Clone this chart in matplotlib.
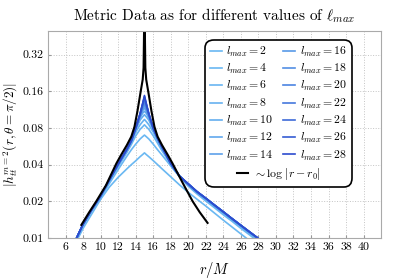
import matplotlib
matplotlib.use('Agg')
import matplotlib.pyplot as plt
from matplotlib.legend import Legend
import numpy as np

plt.rcParams['font.family'] = 'serif'
plt.rcParams['font.serif'] = ['cmr10', 'DejaVu Serif']
plt.rcParams['mathtext.fontset'] = 'cm'
plt.rcParams['axes.unicode_minus'] = False
plt.rcParams['axes.formatter.use_mathtext'] = True

# radial grid shared by all l_max curves
r = [7, 7.5, 8, 9, 10, 11, 12, 13, 13.5, 14, 14.5, 14.8, 15, 15.2, 15.5, 16, 16.5,
     17, 18, 19, 20, 21, 22, 23, 24, 25, 26, 27, 28, 29]

lmax = [2, 4, 6, 8, 10, 12, 14, 16, 18, 20, 22, 24, 26, 28]

h2 = [0.0088, 0.0102, 0.0120, 0.0158, 0.0208, 0.0262, 0.0315, 0.0370, 0.0400, 0.0430, 0.0465, 0.0485, 0.0500,
      0.0485, 0.0465, 0.0432, 0.0400, 0.0370, 0.0318, 0.0273, 0.0237, 0.0208, 0.0183, 0.0160, 0.0140, 0.0123,
      0.0108, 0.0095, 0.0084, 0.0075]
h4 = [0.0090, 0.0107, 0.0127, 0.0168, 0.0214, 0.0280, 0.0365, 0.0470, 0.0530, 0.0590, 0.0650, 0.0680, 0.0700,
      0.0680, 0.0650, 0.0590, 0.0530, 0.0480, 0.0390, 0.0318, 0.0266, 0.0230, 0.0201, 0.0177, 0.0155, 0.0137,
      0.0120, 0.0106, 0.0093, 0.0082]
h6 = [0.0090, 0.0108, 0.0129, 0.0170, 0.0218, 0.0292, 0.0385, 0.0505, 0.0585, 0.0690, 0.0780, 0.0820, 0.0850,
      0.0820, 0.0780, 0.0690, 0.0600, 0.0520, 0.0402, 0.0322, 0.0271, 0.0234, 0.0206, 0.0181, 0.0159, 0.0140,
      0.0123, 0.0109, 0.0096, 0.0085]
h8 = [0.0091, 0.0108, 0.0129, 0.0171, 0.0219, 0.0296, 0.0392, 0.0520, 0.0605, 0.0740, 0.0850, 0.0905, 0.0940,
      0.0905, 0.0850, 0.0740, 0.0630, 0.0540, 0.0405, 0.0322, 0.0273, 0.0236, 0.0208, 0.0183, 0.0161, 0.0142,
      0.0125, 0.0110, 0.0097, 0.0086]
h10 = [0.0091, 0.0108, 0.0129, 0.0171, 0.0220, 0.0298, 0.0396, 0.0526, 0.0615, 0.0770, 0.0930, 0.0990, 0.1030,
       0.0990, 0.0930, 0.0770, 0.0645, 0.0550, 0.0408, 0.0322, 0.0274, 0.0237, 0.0209, 0.0184, 0.0162, 0.0143,
       0.0126, 0.0111, 0.0098, 0.0086]
h12 = [0.0091, 0.0109, 0.0129, 0.0171, 0.0220, 0.0299, 0.0398, 0.0529, 0.0620, 0.0785, 0.0970, 0.1060, 0.1100,
       0.1060, 0.0970, 0.0785, 0.0650, 0.0553, 0.0409, 0.0322, 0.0275, 0.0238, 0.0210, 0.0185, 0.0163, 0.0143,
       0.0126, 0.0111, 0.0098, 0.0087]
h14 = [0.0091, 0.0109, 0.0130, 0.0172, 0.0221, 0.0299, 0.0400, 0.0531, 0.0622, 0.0790, 0.0990, 0.1110, 0.1170,
       0.1110, 0.0990, 0.0790, 0.0653, 0.0555, 0.0409, 0.0322, 0.0276, 0.0238, 0.0210, 0.0185, 0.0163, 0.0143,
       0.0126, 0.0111, 0.0098, 0.0087]
h16 = [0.0091, 0.0109, 0.0130, 0.0172, 0.0221, 0.0300, 0.0401, 0.0532, 0.0624, 0.0793, 0.1005, 0.1150, 0.1230,
       0.1150, 0.1005, 0.0793, 0.0655, 0.0556, 0.0410, 0.0322, 0.0277, 0.0239, 0.0211, 0.0185, 0.0163, 0.0144,
       0.0127, 0.0112, 0.0099, 0.0087]
h18 = [0.0091, 0.0109, 0.0130, 0.0172, 0.0221, 0.0300, 0.0402, 0.0533, 0.0626, 0.0795, 0.1015, 0.1180, 0.1280,
       0.1180, 0.1015, 0.0795, 0.0656, 0.0557, 0.0410, 0.0322, 0.0277, 0.0239, 0.0211, 0.0186, 0.0164, 0.0144,
       0.0127, 0.0112, 0.0099, 0.0087]
h20 = [0.0091, 0.0109, 0.0130, 0.0172, 0.0222, 0.0300, 0.0403, 0.0534, 0.0627, 0.0797, 0.1025, 0.1210, 0.1330,
       0.1210, 0.1025, 0.0797, 0.0657, 0.0558, 0.0410, 0.0322, 0.0278, 0.0240, 0.0212, 0.0186, 0.0164, 0.0144,
       0.0127, 0.0112, 0.0099, 0.0087]
h22 = [0.0091, 0.0109, 0.0130, 0.0172, 0.0222, 0.0300, 0.0404, 0.0535, 0.0628, 0.0798, 0.1035, 0.1235, 0.1370,
       0.1235, 0.1035, 0.0798, 0.0658, 0.0559, 0.0410, 0.0322, 0.0278, 0.0240, 0.0212, 0.0186, 0.0164, 0.0144,
       0.0127, 0.0112, 0.0099, 0.0087]
h24 = [0.0091, 0.0109, 0.0130, 0.0172, 0.0222, 0.0300, 0.0405, 0.0536, 0.0629, 0.0799, 0.1040, 0.1255, 0.1410,
       0.1255, 0.1040, 0.0799, 0.0659, 0.0560, 0.0410, 0.0322, 0.0278, 0.0240, 0.0212, 0.0186, 0.0164, 0.0144,
       0.0127, 0.0112, 0.0099, 0.0087]
h26 = [0.0091, 0.0109, 0.0130, 0.0172, 0.0222, 0.0300, 0.0405, 0.0537, 0.0630, 0.0800, 0.1045, 0.1270, 0.1450,
       0.1270, 0.1045, 0.0800, 0.0660, 0.0560, 0.0410, 0.0322, 0.0278, 0.0240, 0.0212, 0.0186, 0.0164, 0.0144,
       0.0127, 0.0112, 0.0099, 0.0087]
h28 = [0.0091, 0.0109, 0.0130, 0.0172, 0.0222, 0.0300, 0.0405, 0.0538, 0.0630, 0.0800, 0.1050, 0.1280, 0.1480,
       0.1280, 0.1050, 0.0800, 0.0660, 0.0560, 0.0410, 0.0322, 0.0278, 0.0240, 0.0212, 0.0186, 0.0164, 0.0144,
       0.0127, 0.0112, 0.0099, 0.0087]

curves = [h2, h4, h6, h8, h10, h12, h14, h16, h18, h20, h22, h24, h26, h28]

# log fit around the particle position r0 = 15
r_fit = [7.8, 8.7, 9.5, 10.6, 11.8, 12.33, 13.0, 13.5, 13.86, 14.2, 14.54, 14.8, 14.9, 14.97,
         15.03, 15.1, 15.2, 15.46, 15.8, 16.14, 16.5, 17.0, 17.67, 18.2, 19.4, 20.5, 21.3, 22.2]
h_fit = [0.0128, 0.0163, 0.0200, 0.0270, 0.0410, 0.0480, 0.0580, 0.0680, 0.0820, 0.1100, 0.1550, 0.2000,
         0.2500, 0.6000, 0.6000, 0.2500, 0.2000, 0.1550, 0.1100, 0.0820, 0.0680, 0.0580, 0.0480, 0.0410,
         0.0280, 0.0200, 0.0163, 0.0133]

xticks = list(range(6, 42, 2))
yticks = [0.01, 0.02, 0.04, 0.08, 0.16, 0.32]

c_light = np.array([106, 184, 242]) / 255
c_dark = np.array([44, 76, 206]) / 255

fig = plt.figure(figsize=(3.97, 2.80), dpi=100)
ax = fig.add_axes([0.121, 0.15, 0.839, 0.739])

lines = []
for i, (l, h) in enumerate(zip(lmax, curves)):
    t = (i / (len(lmax) - 1)) ** 2
    col = c_light + (c_dark - c_light) * t
    ln, = ax.plot(r, h, color=col, lw=1.2, label=rf'$l_{{max}} = {l}$')
    lines.append(ln)

fit_line, = ax.plot(r_fit, h_fit, color='black', lw=1.5, label=r'$\sim \log\,|r - r_0|$')

ax.set_yscale('log', base=2)
ax.set_xlim(4, 42)
ax.set_ylim(0.01, 0.5)
ax.set_xticks(xticks)
ax.set_xticklabels([str(x) for x in xticks])
ax.set_yticks(yticks)
ax.set_yticklabels(['0.01', '0.02', '0.04', '0.08', '0.16', '0.32'])
ax.minorticks_off()
ax.tick_params(labelsize=8.5, direction='in', length=2.5, color='#999999', pad=3)
for s in ax.spines.values():
    s.set_color('#aaaaaa')
ax.grid(True, ls=':', color='#c4c4c4', lw=0.7)

ax.set_xlabel(r'$r/M$', fontsize=10.5, labelpad=6)
ax.set_ylabel(r'$|h_{tt}^{m=2}(r,\theta=\pi/2)|$', fontsize=9.5)
ax.yaxis.set_label_coords(-0.085, 0.5)
ax.set_title(r'Metric Data as for different values of $\ell_{max}$', fontsize=11, pad=8)

kw = dict(fontsize=8.5, handlelength=1.0, handletextpad=0.4, labelspacing=0.28)
leg_fit = Legend(ax, [fit_line], [fit_line.get_label()], **kw)
leg = ax.legend(lines, [ln.get_label() for ln in lines], ncol=2, loc='upper right',
                bbox_to_anchor=(0.913, 0.957), borderaxespad=0, columnspacing=0.8,
                fancybox=True, framealpha=1, edgecolor='black', **kw)
# put the fit entry centred under both columns, inside the same frame
leg._legend_box._children.append(leg_fit._legend_handle_box)
leg.get_frame().set_linewidth(1.2)
leg.get_frame().set_boxstyle('round,pad=0,rounding_size=0.7')

fig.savefig('out.png', dpi=100)
